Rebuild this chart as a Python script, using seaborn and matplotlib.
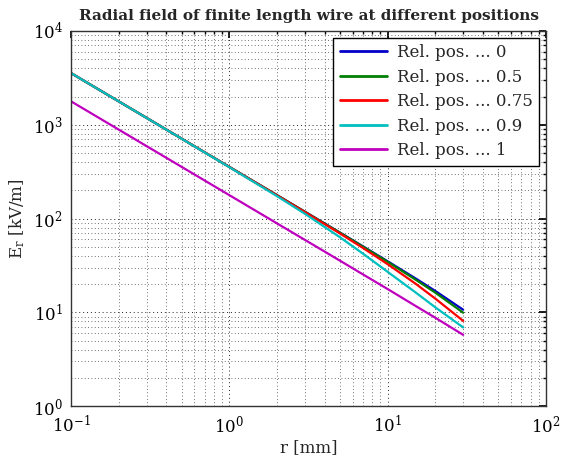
import numpy as np
import pandas as pd
import matplotlib
matplotlib.use("Agg")
import matplotlib.pyplot as plt
import seaborn as sns
from matplotlib.ticker import LogLocator, NullFormatter

r_mm = [0.1, 0.2, 0.5, 1, 2, 3, 5, 7, 10, 15, 20, 30]
labels = ["Rel. pos. ... 0", "Rel. pos. ... 0.5", "Rel. pos. ... 0.75",
          "Rel. pos. ... 0.9", "Rel. pos. ... 1"]
e_pos0 = [3550, 1775, 710, 355, 177.5, 118.3, 70.8, 50.4, 35.0, 23.0, 16.9, 10.65]
e_pos05 = [3550, 1775, 710, 354.9, 177.3, 118.0, 70.5, 50.0, 34.5, 22.3, 16.2, 9.9]
e_pos075 = [3550, 1775, 710, 354.6, 176.7, 117.3, 69.2, 48.4, 32.6, 20.2, 14.0, 8.1]
e_pos09 = [3550, 1774.5, 708.8, 352.7, 173.2, 112.4, 63.1, 42.1, 27.0, 16.3, 11.3, 6.9]
e_pos1 = [1775, 887.5, 355, 177.5, 88.7, 59.2, 35.5, 25.3, 17.7, 11.7, 8.75, 5.75]
series = [e_pos0, e_pos05, e_pos075, e_pos09, e_pos1]
colors = ["#0000c8", "#007f00", "#ff0000", "#00bfbf", "#bf00bf"]

rows = []
for lab, vals in zip(labels, series):
    for x, y in zip(r_mm, vals):
        rows.append({"r": x, "E": y, "series": lab})
df = pd.DataFrame(rows)

sns.set_theme(style="white")
plt.rcParams["font.family"] = ["DejaVu Serif"]
plt.rcParams["mathtext.fontset"] = "dejavuserif"

fig = plt.figure(figsize=(5.64, 4.62), dpi=100)
ax = fig.add_axes([0.126, 0.121, 0.842, 0.812])

sns.lineplot(data=df, x="r", y="E", hue="series", hue_order=labels,
             palette=colors, linewidth=1.6, ax=ax, legend=True)

ax.set_xscale("log")
ax.set_yscale("log")
ax.set_xlim(0.1, 100)
ax.set_ylim(1, 1e4)

ax.xaxis.set_major_locator(LogLocator(base=10, numticks=10))
ax.yaxis.set_major_locator(LogLocator(base=10, numticks=10))
ax.xaxis.set_minor_locator(LogLocator(base=10, subs=np.arange(2, 10), numticks=20))
ax.yaxis.set_minor_locator(LogLocator(base=10, subs=np.arange(2, 10), numticks=20))
ax.xaxis.set_minor_formatter(NullFormatter())
ax.yaxis.set_minor_formatter(NullFormatter())

ax.grid(True, which="major", linestyle=(0, (1, 3)), color="#222222", linewidth=0.7)
ax.grid(True, which="minor", linestyle=(0, (1, 3)), color="#444444", linewidth=0.6)
ax.tick_params(which="both", direction="in", top=True, right=True,
               colors="black", labelsize=12)
ax.tick_params(which="major", length=5, pad=6)
ax.tick_params(which="minor", length=2.5)
for sp in ax.spines.values():
    sp.set_color("#333333")
    sp.set_linewidth(1.0)

ax.set_title("Radial field of finite length wire at different positions",
             fontsize=11, fontweight="bold", pad=8)
ax.set_xlabel("r [mm]", fontsize=12, labelpad=2)
ax.set_ylabel(r"E$_\mathrm{r}$ [kV/m]", fontsize=12, labelpad=4)

leg = ax.legend(loc="upper right", fontsize=12, frameon=True, fancybox=False,
                borderaxespad=0.4, handlelength=2.8, labelspacing=0.45,
                borderpad=0.4, handletextpad=0.6)
leg.get_frame().set_edgecolor("black")
leg.get_frame().set_linewidth(1.0)
leg.get_frame().set_alpha(1.0)
for line in leg.get_lines():
    line.set_linewidth(2.0)

fig.savefig("out.png", dpi=100)
